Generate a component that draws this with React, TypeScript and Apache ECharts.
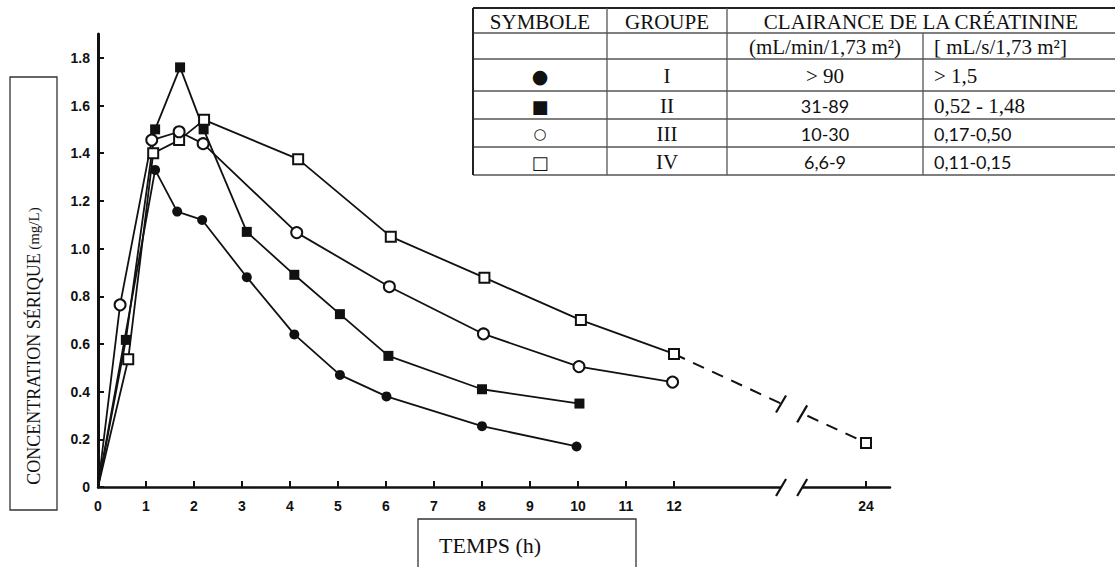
import React, { useEffect, useRef } from "react";
import * as echarts from "echarts";

// ---------- data ----------
const groupI_t = [0, 1.19, 1.65, 2.17, 3.1, 4.09, 5.04, 6.01, 8.0, 9.97];
const groupI_c = [0, 1.33, 1.155, 1.12, 0.88, 0.64, 0.47, 0.38, 0.255, 0.17];

const groupII_t = [0, 0.58, 1.19, 1.71, 2.2, 3.1, 4.09, 5.04, 6.05, 8.0, 10.03];
const groupII_c = [0, 0.617, 1.5, 1.76, 1.5, 1.07, 0.89, 0.725, 0.55, 0.41, 0.35];

const groupIII_t = [0, 0.46, 1.12, 1.69, 2.19, 4.14, 6.07, 8.03, 10.02, 11.97];
const groupIII_c = [0, 0.764, 1.455, 1.49, 1.44, 1.067, 0.84, 0.642, 0.505, 0.44];

const groupIV_t = [0, 0.63, 1.15, 1.69, 2.21, 4.17, 6.1, 8.05, 10.06, 12.0];
const groupIV_c = [0, 0.536, 1.4, 1.455, 1.54, 1.375, 1.05, 0.878, 0.7, 0.558];
const groupIV_late_t = [12.0, 24];
const groupIV_late_c = [0.558, 0.185];

const xTickHours = [0, 1, 2, 3, 4, 5, 6, 7, 8, 9, 10, 11, 12, 24];
const xTickLabels = ["0", "1", "2", "3", "4", "5", "6", "7", "8", "9", "10", "11", "12", "24"];
const yTickValues = [0, 0.2, 0.4, 0.6, 0.8, 1.0, 1.2, 1.4, 1.6, 1.8];
const yTickLabels = ["0", "0.2", "0.4", "0.6", "0.8", "1.0", "1.2", "1.4", "1.6", "1.8"];

// broken time axis: 12 h -> 24 h compressed into 4 units
const AXIS_CUT = 12;
const LATE_HOUR = 24;
const LATE_POS = 16;
const breakMarkPos = [14.23, 14.67];

const tableHead1 = ["SYMBOLE", "GROUPE", "CLAIRANCE DE LA CRÉATININE"];
const tableHead2 = ["(mL/min/1,73 m²)", "[ mL/s/1,73 m²]"];
const tableSymbols = ["●", "■", "○", "□"];
const tableGroups = ["I", "II", "III", "IV"];
const clearanceMlMin = ["> 90", "31-89", "10-30", "6,6-9"];
const clearanceMlS = ["> 1,5", "0,52 - 1,48", "0,17-0,50", "0,11-0,15"];
const clearanceMlMinSans = [false, true, true, true];
const clearanceMlSSans = [false, false, true, true];

const yTitleMain = "CONCENTRATION SÉRIQUE";
const yTitleUnit = "(mg/L)";
const xTitle = "TEMPS (h)";

// ---------- helpers ----------
const toPos = (h: number) =>
  h <= AXIS_CUT ? h : AXIS_CUT + ((h - AXIS_CUT) * (LATE_POS - AXIS_CUT)) / (LATE_HOUR - AXIS_CUT);
const pairs = (t: number[], c: number[]) =>
  t.map((h, i) => (h === 0 && c[i] === 0 ? { value: [0, 0], symbol: "none" } : { value: [toPos(h), c[i]] }));
const xTickPos = xTickHours.map(toPos);

const INK = "#111";
const SERIF = "'Liberation Serif', 'Times New Roman', serif";
const SANS = "Lato, 'Open Sans', sans-serif";

function buildTable(): any[] {
  const cols = [473, 607, 727, 923, 1115];
  const rows = [8, 33, 59, 91, 119, 147, 175];
  const els: any[] = [];
  const line = (x1: number, y1: number, x2: number, y2: number, w = 1.3, c = "#555") =>
    els.push({ type: "line", shape: { x1, y1, x2, y2 }, style: { stroke: c, lineWidth: w }, silent: true });
  rows.forEach((y, i) => line(cols[0], y, cols[4], y, i === 0 ? 2 : 1.3, i === 0 ? "#222" : "#555"));
  line(cols[0], rows[0], cols[0], rows[6], 2, "#222");
  line(cols[1], rows[0], cols[1], rows[6]);
  line(cols[2], rows[0], cols[2], rows[6]);
  line(cols[3], rows[1], cols[3], rows[6]);
  const txt = (x: number, y: number, text: string, align = "center", font = SERIF, size = 21) =>
    els.push({
      type: "text",
      x,
      y,
      silent: true,
      style: { text, fill: INK, font: `${size}px ${font}`, align, verticalAlign: "middle" },
    });
  const cy = (r: number) => (rows[r] + rows[r + 1]) / 2 + 1;
  const symSizes = [19, 18, 15, 18];
  txt((cols[0] + cols[1]) / 2, cy(0), tableHead1[0]);
  txt((cols[1] + cols[2]) / 2, cy(0), tableHead1[1]);
  txt((cols[2] + cols[4]) / 2, cy(0), tableHead1[2]);
  txt((cols[2] + cols[3]) / 2, cy(1), tableHead2[0]);
  txt(cols[3] + 11, cy(1), tableHead2[1], "left");
  for (let i = 0; i < 4; i++) {
    txt((cols[0] + cols[1]) / 2, cy(i + 2), tableSymbols[i], "center", "'DejaVu Sans', sans-serif", symSizes[i]);
    txt((cols[1] + cols[2]) / 2, cy(i + 2), tableGroups[i]);
    txt(
      (cols[2] + cols[3]) / 2,
      cy(i + 2),
      clearanceMlMin[i],
      "center",
      clearanceMlMinSans[i] ? SANS : SERIF,
      clearanceMlMinSans[i] ? 18 : 21
    );
    txt(cols[3] + 11, cy(i + 2), clearanceMlS[i], "left", clearanceMlSSans[i] ? SANS : SERIF, clearanceMlSSans[i] ? 18 : 21);
  }
  return els;
}

export default function App() {
  const ref = useRef<HTMLDivElement>(null);
  useEffect(() => {
    if (!ref.current) return;
    const chart = echarts.init(ref.current, null, { renderer: "svg" });
    const lineStyle = { color: INK, width: 1.8 };
    const filled = { color: INK };
    const hollow = { color: "#fff", borderColor: INK, borderWidth: 2 };
    const base = { type: "line", animation: false, silent: true, emphasis: { disabled: true }, lineStyle, z: 3 };
    const lateData = groupIV_late_t.map((h, i) => [toPos(h), groupIV_late_c[i]]);
    const axisFont = { color: INK, fontWeight: "bold", fontSize: 14, fontFamily: "'Liberation Sans', Arial, sans-serif" };

    const option: any = {
      animation: false,
      backgroundColor: "#fff",
      grid: { left: 98, top: 34, width: 792, height: 453, containLabel: false, outerBoundsMode: "none" },
      xAxis: {
        type: "value",
        min: 0,
        max: 16.5,
        splitLine: { show: false },
        axisLine: { show: true, lineStyle: { color: INK, width: 2.5 } },
        axisTick: { show: true, inside: true, length: 6, customValues: xTickPos, lineStyle: { color: INK, width: 2 } },
        axisLabel: {
          customValues: xTickPos,
          formatter: (v: number) => {
            const i = xTickPos.indexOf(v);
            return i >= 0 ? xTickLabels[i] : "";
          },
          ...axisFont,
          margin: 12,
        },
      },
      yAxis: {
        type: "value",
        min: 0,
        max: 1.9,
        splitLine: { show: false },
        axisLine: { show: true, lineStyle: { color: INK, width: 3 } },
        axisTick: { show: true, inside: true, length: 6, customValues: yTickValues, lineStyle: { color: INK, width: 2 } },
        axisLabel: {
          customValues: yTickValues,
          formatter: (v: number) => {
            const i = yTickValues.indexOf(v);
            return i >= 0 ? yTickLabels[i] : "";
          },
          ...axisFont,
          margin: 8,
        },
      },
      series: [
        { ...base, name: "IV", data: pairs(groupIV_t, groupIV_c), symbol: "rect", symbolSize: 10, itemStyle: hollow },
        {
          ...base,
          name: "IV-24h",
          data: [{ value: lateData[0], symbol: "none" }, { value: lateData[1] }],
          symbol: "rect",
          symbolSize: 10,
          itemStyle: hollow,
          lineStyle: { color: INK, width: 2, type: [12, 9] },
        },
        { ...base, name: "III", data: pairs(groupIII_t, groupIII_c), symbol: "circle", symbolSize: 11, itemStyle: hollow },
        { ...base, name: "II", data: pairs(groupII_t, groupII_c), symbol: "rect", symbolSize: 10, itemStyle: filled },
        { ...base, name: "I", data: pairs(groupI_t, groupI_c), symbol: "circle", symbolSize: 10, itemStyle: filled },
        {
          type: "custom",
          name: "breaks",
          silent: true,
          z: 10,
          data: [[breakMarkPos[0], breakMarkPos[1]]],
          renderItem: (_p: any, api: any) => {
            const a = api.value(0);
            const b = api.value(1);
            const pA = api.coord([a, 0]);
            const pB = api.coord([b, 0]);
            const l1 = api.coord(lateData[0]);
            const l2 = api.coord(lateData[1]);
            const yAt = (x: number) => l1[1] + ((l2[1] - l1[1]) * (x - l1[0])) / (l2[0] - l1[0]);
            const slash = (x: number, y: number) => ({
              type: "line",
              shape: { x1: x - 5, y1: y + 9, x2: x + 5, y2: y - 8 },
              style: { stroke: INK, lineWidth: 2.2 },
            });
            const ya = yAt(pA[0]);
            const yb = yAt(pB[0]);
            return {
              type: "group",
              children: [
                { type: "rect", shape: { x: pA[0], y: pA[1] - 5, width: pB[0] - pA[0], height: 10 }, style: { fill: "#fff" } },
                {
                  type: "polygon",
                  shape: { points: [[pA[0], ya - 5], [pB[0], yb - 5], [pB[0], yb + 5], [pA[0], ya + 5]] },
                  style: { fill: "#fff" },
                },
                slash(pA[0], pA[1]),
                slash(pB[0], pB[1]),
                slash(pA[0], ya),
                slash(pB[0], yb),
              ],
            };
          },
        },
      ],
      graphic: [
        ...buildTable(),
        {
          type: "rect",
          shape: { x: 10, y: 77, width: 47, height: 433 },
          style: { fill: "none", stroke: "#333", lineWidth: 1.3 },
          silent: true,
        },
        {
          type: "text",
          x: 34,
          y: 346,
          rotation: Math.PI / 2,
          silent: true,
          style: {
            text: `{a|${yTitleMain}} {b|${yTitleUnit}}`,
            align: "center",
            verticalAlign: "middle",
            fill: INK,
            rich: {
              a: { fontSize: 18, fontFamily: SERIF, fill: INK },
              b: { fontSize: 15, fontFamily: SERIF, fill: INK },
            },
          },
        },
        {
          type: "rect",
          shape: { x: 418, y: 519, width: 218, height: 60 },
          style: { fill: "#fff", stroke: "#333", lineWidth: 1.3 },
          silent: true,
        },
        {
          type: "text",
          x: 439,
          y: 545,
          silent: true,
          style: { text: xTitle, font: `22px ${SERIF}`, fill: INK, align: "left", verticalAlign: "middle" },
        },
      ],
    };
    chart.setOption(option);
    return () => chart.dispose();
  }, []);
  return <div ref={ref} style={{ position: "absolute", left: 0, top: 0, width: 1115, height: 567 }} />;
}
